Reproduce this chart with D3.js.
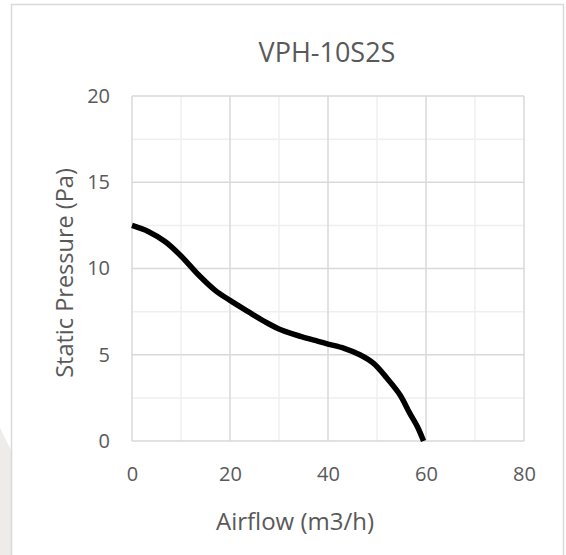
<!DOCTYPE html>
<html>
<head>
<meta charset="utf-8">
<script src="https://cdnjs.cloudflare.com/ajax/libs/d3/7.8.5/d3.min.js"></script>
<style>
    body { margin: 0; background: #fff; }
    svg { display: block; font-family: "Open Sans", "Liberation Sans", sans-serif; }
</style>
</head>
<body>
<div class="chartdiv"></div>
<script>
// fan curve
const airflow = [0, 3.3, 6.8, 10.1, 13.5, 16.9, 20, 23.7, 27.1, 30.5, 34.6, 38, 40, 43.3, 46.5, 49.3, 52, 54.7, 56.7, 58.3, 59.5]
const pressure = [12.5, 12.15, 11.55, 10.7, 9.65, 8.75, 8.15, 7.5, 6.92, 6.43, 6.05, 5.78, 5.62, 5.37, 5.0, 4.5, 3.65, 2.67, 1.6, 0.8, 0]

const xTicks = [0, 20, 40, 60, 80]
const xMinor = [10, 30, 50, 70]
const yTicks = [0, 5, 10, 15, 20]
const yMinor = [2.5, 7.5, 12.5, 17.5]

const chartTitle = 'VPH-10S2S'
const xTitle = 'Airflow (m3/h)'
const yTitle = 'Static Pressure (Pa)'

let w = 566, h = 555
let plot = { left: 132, right: 524, top: 96, bottom: 441 }
let textcol = '#595959'

let svg = d3.select('.chartdiv').append('svg')
    .attr('width', w)
    .attr('height', h)

// faint grey shape outside the chart frame, bottom left
svg.append('path')
    .attr('d', 'M0,428 L11,450 L11,555 L0,555 Z')
    .style('fill', '#eeebe9')

// chart frame
svg.append('rect')
    .attr('x', 11.5)
    .attr('y', 4.5)
    .attr('width', 552)
    .attr('height', 580)
    .style('fill', '#fff')
    .style('stroke', '#d9d9d9')
    .style('stroke-width', 1.5)

let xScale = d3.scaleLinear().domain([0, 80]).range([plot.left, plot.right])
let yScale = d3.scaleLinear().domain([0, 20]).range([plot.bottom, plot.top])

// minor grid
let grid = svg.append('g').attr('class', 'grid')
grid.selectAll('.xminor').data(xMinor).enter().append('line')
    .attr('x1', d => xScale(d)).attr('x2', d => xScale(d))
    .attr('y1', plot.top).attr('y2', plot.bottom)
    .style('stroke', '#efefef').style('stroke-width', 1.5)
grid.selectAll('.yminor').data(yMinor).enter().append('line')
    .attr('y1', d => yScale(d)).attr('y2', d => yScale(d))
    .attr('x1', plot.left).attr('x2', plot.right)
    .style('stroke', '#efefef').style('stroke-width', 1.5)

// major grid
grid.selectAll('.xmajor').data(xTicks).enter().append('line')
    .attr('x1', d => xScale(d)).attr('x2', d => xScale(d))
    .attr('y1', plot.top).attr('y2', plot.bottom)
    .style('stroke', '#d9d9d9').style('stroke-width', 1.5)
grid.selectAll('.ymajor').data(yTicks).enter().append('line')
    .attr('y1', d => yScale(d)).attr('y2', d => yScale(d))
    .attr('x1', plot.left).attr('x2', plot.right)
    .style('stroke', '#d9d9d9').style('stroke-width', 1.5)

// axes (labels only)
let gx = svg.append('g')
    .attr('class', 'x axis')
    .attr('transform', 'translate(0,' + plot.bottom + ')')
    .call(d3.axisBottom(xScale).tickValues(xTicks).tickSize(0).tickPadding(26))
let gy = svg.append('g')
    .attr('class', 'y axis')
    .attr('transform', 'translate(' + plot.left + ',0)')
    .call(d3.axisLeft(yScale).tickValues(yTicks).tickSize(0).tickPadding(22))

svg.selectAll('.axis .domain').remove()
svg.selectAll('.axis text')
    .style('font-family', '"Open Sans", sans-serif')
    .style('font-size', '20px')
    .style('fill', textcol)

// curve
let data = airflow.map((d, i) => ({ x: d, y: pressure[i] }))
let line = d3.line()
    .x(d => xScale(d.x))
    .y(d => yScale(d.y))
    .curve(d3.curveCatmullRom.alpha(0.5))

svg.append('path')
    .datum(data)
    .attr('d', line)
    .style('fill', 'none')
    .style('stroke', '#000')
    .style('stroke-width', 5.5)
    .style('stroke-linejoin', 'round')

// titles
svg.append('text')
    .attr('x', 327)
    .attr('y', 62)
    .attr('text-anchor', 'middle')
    .style('font-size', '27px')
    .style('fill', textcol)
    .text(chartTitle)

svg.append('text')
    .attr('x', 295)
    .attr('y', 530)
    .attr('text-anchor', 'middle')
    .style('font-size', '24px')
    .style('fill', textcol)
    .text(xTitle)

svg.append('text')
    .attr('transform', 'translate(73,273) rotate(-90)')
    .attr('text-anchor', 'middle')
    .style('font-size', '23.5px')
    .style('fill', textcol)
    .text(yTitle)
</script>
</body>
</html>
